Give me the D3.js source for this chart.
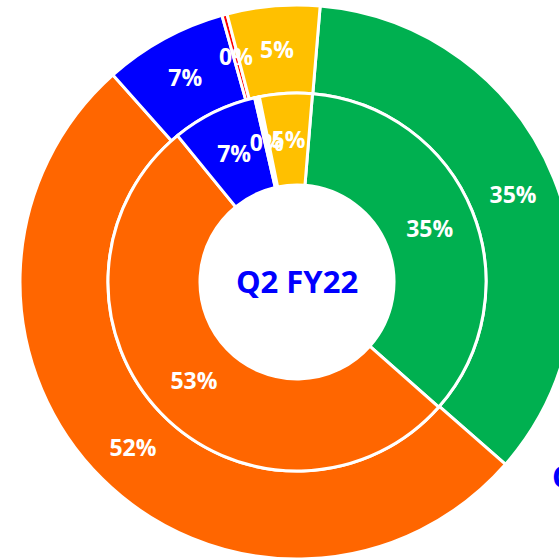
<!DOCTYPE html>
<html>
<head>
<meta charset="utf-8">
<script src="https://cdn.jsdelivr.net/npm/d3@7"></script>
<style>
  html, body { margin: 0; padding: 0; background: #fff; overflow: hidden; }
  svg { display: block; }
  text { font-family: "Open Sans", "Lato", sans-serif; font-weight: 700; }
</style>
</head>
<body>
<svg id="chart" width="559" height="558"></svg>
<script>
// Segment names, in drawing order (clockwise)
const categories = ["Green", "Orange", "Blue", "Red", "Yellow"];
// Outer ring shares (%)
const outerValues = [35.1, 52.0, 7.2, 0.3, 5.4];
// Inner ring shares (%)
const innerValues = [35.2, 52.6, 7.3, 0.4, 4.5];
// Centre caption and side caption
const centerLabel = "Q2 FY22";
const sideLabel = "Q1 FY22";

const outerColors = ["#00B050", "#FF6600", "#0000FF", "#FF0000", "#FFC000"];
const innerColors = ["#00B050", "#FF6600", "#0000FF", "#FFFFFF", "#FFC000"];

const svg = d3.select("#chart");
const cx = 297, cy = 282;
const deg = Math.PI / 180;

const g = svg.append("g").attr("transform", `translate(${cx},${cy})`);

function ring(values, colors, r0, r1, start) {
  const pie = d3.pie().sort(null).value(d => d)
    .startAngle(start * deg).endAngle(start * deg + 2 * Math.PI);
  const arc = d3.arc().innerRadius(r0).outerRadius(r1);
  const arcs = pie(values);
  const grp = g.append("g");
  grp.selectAll("path").data(arcs).join("path")
    .attr("d", arc)
    .attr("fill", (d, i) => colors[i])
    .attr("stroke", "#fff")
    .attr("stroke-width", 3)
    .attr("stroke-linejoin", "miter");
  grp.selectAll("text").data(arcs).join("text")
    .attr("transform", d => `translate(${arc.centroid(d)})`)
    .attr("text-anchor", "middle")
    .attr("dy", "0.36em")
    .attr("fill", "#fff")
    .attr("font-size", 23)
    .text(d => Math.round(d.data) + "%");
}

ring(outerValues, outerColors, 189, 277, 4.8);
ring(innerValues, innerColors, 97, 189, 4.7);

g.append("text")
  .attr("text-anchor", "middle")
  .attr("x", 0)
  .attr("y", 11)
  .attr("fill", "#0000FF")
  .attr("font-size", 31)
  .text(centerLabel);

svg.append("text")
  .attr("x", 552)
  .attr("y", 488)
  .attr("fill", "#0000FF")
  .attr("font-size", 31)
  .text(sideLabel);
</script>
</body>
</html>
